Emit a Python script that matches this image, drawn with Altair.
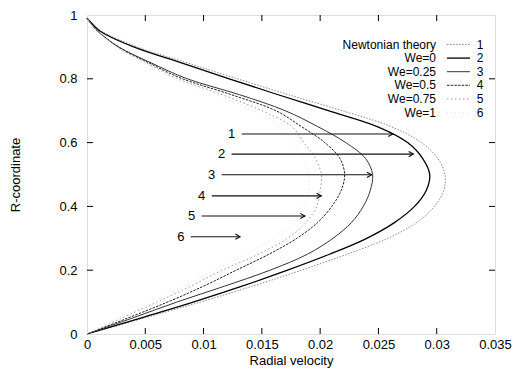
import altair as alt
import pandas as pd

# ---------------- data ----------------
R = [0.0, 0.05, 0.10, 0.15, 0.20, 0.25, 0.30, 0.35, 0.40, 0.45, 0.50,
     0.55, 0.60, 0.65, 0.70, 0.75, 0.80, 0.85, 0.90, 0.95, 0.97, 0.99]

V_NEWTONIAN = [0, .0049, .0097, .0142, .0184, .0223, .0258, .0283, .0298, .0306, .0307,
               .0301, .0287, .0261, .0219, .0173, .0129, .0086, .0043, .0012, .0006, 0]
V_WE0 = [0, .0046, .0091, .0133, .0172, .0208, .0240, .0264, .0281, .0291, .0294,
         .0288, .0275, .0249, .0207, .0164, .0122, .0081, .0040, .0011, .0005, 0]
V_WE025 = [0, .0039, .0077, .0118, .0157, .0189, .0211, .0227, .0237, .0243, .0245,
           .0239, .0222, .0198, .0170, .0131, .0086, .0055, .0027, .0009, .0004, 0]
V_WE05 = [0, .0035, .0069, .0100, .0128, .0156, .0180, .0198, .0210, .0218, .0221,
          .0217, .0204, .0184, .0162, .0124, .0082, .0053, .0027, .0009, .0004, 0]
V_WE075 = [0, .0030, .0060, .0089, .0116, .0147, .0172, .0188, .0197, .0200, .0201,
           .0196, .0186, .0176, .0150, .0116, .0078, .0051, .0026, .0009, .0004, 0]
V_WE1 = [0, .0028, .0056, .0083, .0109, .0136, .0160, .0177, .0186, .0190, .0190,
         .0186, .0177, .0166, .0143, .0111, .0075, .0049, .0025, .0009, .0004, 0]

SERIES_NAMES = ["Newtonian theory", "We=0", "We=0.25", "We=0.5", "We=0.75", "We=1"]
SERIES_NUMS = ["1", "2", "3", "4", "5", "6"]
SERIES_VALUES = [V_NEWTONIAN, V_WE0, V_WE025, V_WE05, V_WE075, V_WE1]

ARROW_R = [0.627, 0.564, 0.499, 0.433, 0.370, 0.305]
ARROW_LABEL_X = [0.01241, 0.01155, 0.01070, 0.00984, 0.00898, 0.00806]
ARROW_START = [0.01327, 0.01240, 0.01155, 0.01070, 0.00983, 0.00890]
ARROW_END = [0.02625, 0.02800, 0.02442, 0.02010, 0.01870, 0.01313]

X_TICKS = [0, 0.005, 0.01, 0.015, 0.02, 0.025, 0.03, 0.035]
Y_TICKS = [0, 0.2, 0.4, 0.6, 0.8, 1]

# ---------------- styles / layout ----------------
W, H = 408, 319
FONT = "Liberation Sans"
STYLES = [
    dict(color="#8a8a8a", strokeWidth=1.0, strokeDash=[1.5, 1.5]),
    dict(color="#000000", strokeWidth=1.3),
    dict(color="#333333", strokeWidth=1.0),
    dict(color="#222222", strokeWidth=1.0, strokeDash=[2.5, 1.2]),
    dict(color="#9a9a9a", strokeWidth=1.0, strokeDash=[1.5, 2.5]),
    dict(color="#e2e2e2", strokeWidth=1.0, strokeDash=[1, 3]),
]

xscale = alt.Scale(domain=[0, 0.035], nice=False, zero=False)
yscale = alt.Scale(domain=[0, 1], nice=False, zero=False)
xaxis = alt.Axis(values=X_TICKS, format="~g", ticks=False, domain=False, grid=False,
                 labelFlush=False, labelOverlap=False, labelPadding=4,
                 labelFontSize=13, titleFontSize=13, titleFontWeight="normal",
                 titleBaseline="alphabetic", titleY=30)
yaxis = alt.Axis(values=Y_TICKS, format="~g", ticks=False, domain=False, grid=False,
                 labelOverlap=False, labelPadding=10,
                 labelFontSize=13, titleFontSize=13, titleFontWeight="normal",
                 titleBaseline="alphabetic", titleX=-68, titleAngle=-90)


def X(field):
    return alt.X(field, type="quantitative", scale=xscale, axis=xaxis, title="Radial velocity")


def Y(field):
    return alt.Y(field, type="quantitative", scale=yscale, axis=yaxis, title="R-coordinate")


layers = []

# curves
for i, vals in enumerate(SERIES_VALUES):
    df = pd.DataFrame({"r": R, "v": vals, "k": list(range(len(R)))})
    layers.append(
        alt.Chart(df).mark_line(interpolate="catmull-rom", **STYLES[i]).encode(
            x=X("v"), y=Y("r"), order=alt.Order("k:Q")
        )
    )

# arrows
arr = pd.DataFrame({"r": ARROW_R, "lx": ARROW_LABEL_X, "s": ARROW_START,
                    "e": ARROW_END, "n": SERIES_NUMS})
layers.append(alt.Chart(arr).mark_rule(color="#111111", strokeWidth=1.1).encode(
    x=X("s"), x2=alt.X2("e"), y=Y("r")))
layers.append(alt.Chart(arr).mark_point(shape="M-1,-0.55L0,0L-1,0.55", filled=False,
                                        size=90, color="#111111", strokeWidth=1.1,
                                        opacity=1).encode(x=X("e"), y=Y("r")))
layers.append(alt.Chart(arr).mark_text(font=FONT, fontSize=13, align="center",
                                       baseline="middle", color="black").encode(
    x=X("lx"), y=Y("r"), text="n:N"))

# ticks (inward, all four sides)
xt = pd.DataFrame({"t": X_TICKS[1:-1]})
yt = pd.DataFrame({"t": Y_TICKS[1:-1]})
layers.append(alt.Chart(xt).mark_rule(color="black", strokeWidth=1).encode(
    x=X("t"), y=alt.value(H), y2=alt.value(H - 6)))
layers.append(alt.Chart(xt).mark_rule(color="black", strokeWidth=1).encode(
    x=X("t"), y=alt.value(0), y2=alt.value(6)))
layers.append(alt.Chart(yt).mark_rule(color="black", strokeWidth=1).encode(
    y=Y("t"), x=alt.value(0), x2=alt.value(6)))
layers.append(alt.Chart(yt).mark_rule(color="black", strokeWidth=1).encode(
    y=Y("t"), x=alt.value(W - 6), x2=alt.value(W)))

# legend (inside plot, top right)
LEG_TOP, LEG_STEP, LEG_FS = 29.5, 13.6, 12
for i, (name, num) in enumerate(zip(SERIES_NAMES, SERIES_NUMS)):
    ly = LEG_TOP + LEG_STEP * i
    d = pd.DataFrame({"name": [name], "num": [num]})
    layers.append(alt.Chart(d).mark_text(font=FONT, fontSize=LEG_FS, align="right",
                                         baseline="middle", color="black").encode(
        x=alt.value(349), y=alt.value(ly), text="name:N"))
    layers.append(alt.Chart(d).mark_rule(**STYLES[i]).encode(
        x=alt.value(360), x2=alt.value(383), y=alt.value(ly)))
    layers.append(alt.Chart(d).mark_text(font=FONT, fontSize=LEG_FS, align="center",
                                         baseline="middle", color="black").encode(
        x=alt.value(393), y=alt.value(ly), text="num:N"))

chart = alt.layer(*layers).properties(
    width=W, height=H,
    autosize="none",
    padding={"left": 87, "top": 15, "right": 18, "bottom": 40},
).configure_view(stroke="black", strokeWidth=1).configure_axis(
    labelFont=FONT, titleFont=FONT, labelColor="black", titleColor="black"
).configure(background="white")

chart.save("out.html", embed_options={"renderer": "svg", "actions": False})
